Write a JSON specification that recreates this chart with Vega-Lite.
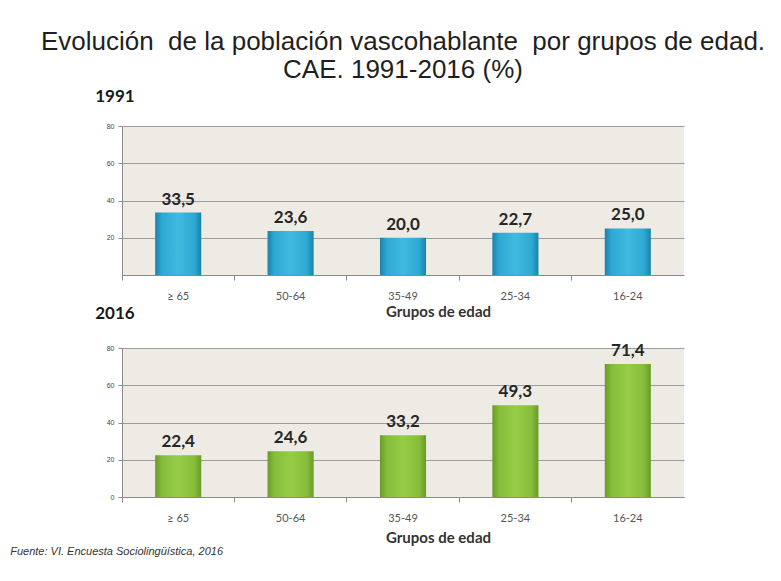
{
  "$schema": "https://vega.github.io/schema/vega-lite/v6.json",
  "background": "white",
  "padding": {"left": 10, "top": 29, "right": 10, "bottom": 10},
  "title": {
    "text": ["Evolución\u00a0 de la población vascohablante\u00a0 por grupos de edad.", "CAE. 1991-2016 (%)"],
    "font": "Liberation Sans, Arial, sans-serif",
    "fontSize": 26,
    "fontWeight": "normal",
    "color": "#1f1f1f",
    "anchor": "middle",
    "frame": "group",
    "lineHeight": 28,
    "offset": 5
  },
  "datasets": {
    "d": [
      {"anio": 1991, "grupo": "≥ 65", "valor": 33.5},
      {"anio": 1991, "grupo": "50-64", "valor": 23.6},
      {"anio": 1991, "grupo": "35-49", "valor": 20.0},
      {"anio": 1991, "grupo": "25-34", "valor": 22.7},
      {"anio": 1991, "grupo": "16-24", "valor": 25.0},
      {"anio": 2016, "grupo": "≥ 65", "valor": 22.4},
      {"anio": 2016, "grupo": "50-64", "valor": 24.6},
      {"anio": 2016, "grupo": "35-49", "valor": 33.2},
      {"anio": 2016, "grupo": "25-34", "valor": 49.3},
      {"anio": 2016, "grupo": "16-24", "valor": 71.4}
    ]
  },
  "spacing": -14,
  "vconcat": [
    {
      "title": {"text": "1991", "anchor": "start", "dx": -11, "offset": 16},
      "width": 562,
      "height": 149,
      "data": {"name": "d"},
      "transform": [{"filter": "datum.anio == 1991"}],
      "encoding": {
        "x": {
          "field": "grupo", "type": "nominal",
          "sort": ["≥ 65", "50-64", "35-49", "25-34", "16-24"],
          "scale": {"paddingInner": 0, "paddingOuter": 0},
          "axis": {"title": "Grupos de edad", "titleX": 316, "titlePadding": 3}
        },
        "y": {
          "field": "valor", "type": "quantitative",
          "scale": {"domain": [0, 80]},
          "axis": {"values": [20, 40, 60, 80], "title": null}
        }
      },
      "layer": [
        {
          "mark": {
            "type": "bar",
            "width": {"band": 0.41},
            "color": {
              "gradient": "linear", "x1": 0, "x2": 1, "y1": 0, "y2": 0,
              "stops": [
                {"offset": 0, "color": "#1b82a8"},
                {"offset": 0.15, "color": "#2ea9d3"},
                {"offset": 0.5, "color": "#41b9e0"},
                {"offset": 0.85, "color": "#2ea9d3"},
                {"offset": 1, "color": "#1b82a8"}
              ]
            }
          }
        },
        {
          "mark": {"type": "text", "baseline": "bottom", "dy": -4, "font": "Lato", "fontWeight": "bold", "fontSize": 17, "color": "#262626"},
          "encoding": {"text": {"field": "valor", "type": "quantitative", "format": ".1f"}}
        }
      ]
    },
    {
      "title": {
        "text": "Fuente: VI. Encuesta Sociolingüística, 2016",
        "orient": "bottom", "anchor": "start", "dx": -85, "offset": 1,
        "font": "Liberation Sans, Arial, sans-serif", "fontStyle": "italic", "fontWeight": "normal", "fontSize": 11, "color": "#333333"
      },
      "vconcat": [
        {
          "title": {"text": "2016", "anchor": "start", "dx": -11, "offset": 19},
          "width": 562,
          "height": 149,
          "data": {"name": "d"},
          "transform": [{"filter": "datum.anio == 2016"}],
          "encoding": {
            "x": {
              "field": "grupo", "type": "nominal",
              "sort": ["≥ 65", "50-64", "35-49", "25-34", "16-24"],
              "scale": {"paddingInner": 0, "paddingOuter": 0},
              "axis": {"title": "Grupos de edad", "titleX": 316, "titlePadding": 7}
            },
            "y": {
              "field": "valor", "type": "quantitative",
              "scale": {"domain": [0, 80]},
              "axis": {"values": [0, 20, 40, 60, 80], "title": null}
            }
          },
          "layer": [
            {
              "mark": {
                "type": "bar",
                "width": {"band": 0.41},
                "color": {
                  "gradient": "linear", "x1": 0, "x2": 1, "y1": 0, "y2": 0,
                  "stops": [
                    {"offset": 0, "color": "#6a9a26"},
                    {"offset": 0.15, "color": "#86bd3b"},
                    {"offset": 0.5, "color": "#97cc48"},
                    {"offset": 0.85, "color": "#86bd3b"},
                    {"offset": 1, "color": "#6a9a26"}
                  ]
                }
              }
            },
            {
              "mark": {"type": "text", "baseline": "bottom", "dy": -4, "font": "Lato", "fontWeight": "bold", "fontSize": 17, "color": "#262626"},
              "encoding": {"text": {"field": "valor", "type": "quantitative", "format": ".1f"}}
            }
          ]
        }
      ]
    }
  ],
  "config": {
    "locale": {"number": {"decimal": ",", "thousands": ".", "grouping": [3], "currency": ["", " €"]}},
    "view": {"fill": "#edebe3", "stroke": null},
    "title": {"font": "Lato", "fontWeight": "bold", "fontSize": 17, "color": "#1a1a1a"},
    "axisY": {
      "grid": true, "gridColor": "#9c9c9c", "gridWidth": 1,
      "domain": true, "domainColor": "#8a8a8a",
      "ticks": true, "tickSize": 4, "tickColor": "#8a8a8a",
      "labelFontSize": 7, "labelColor": "#444444", "labelPadding": 4, "labelFont": "Liberation Sans"
    },
    "axisX": {
      "grid": false, "domain": true, "domainColor": "#8a8a8a",
      "ticks": true, "tickSize": 5, "tickColor": "#8a8a8a", "bandPosition": 0,
      "labelAngle": 0, "labelFontSize": 11, "labelColor": "#555555", "labelPadding": 10, "labelFont": "Lato",
      "titleFont": "Lato", "titleFontSize": 15, "titleFontWeight": "bold", "titleColor": "#333333"
    }
  }
}
